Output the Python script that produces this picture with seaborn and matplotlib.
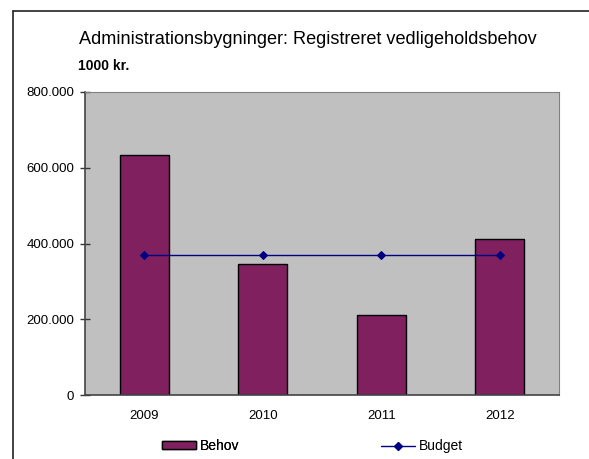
import matplotlib
matplotlib.use("Agg")
import matplotlib.pyplot as plt
import seaborn as sns
import pandas as pd
from matplotlib.patches import Patch
from matplotlib.lines import Line2D
from matplotlib.ticker import FuncFormatter

years = ["2009", "2010", "2011", "2012"]
behov = [634000, 346000, 212000, 412000]
budget = [369000, 369000, 369000, 369000]
title = "Administrationsbygninger: Registreret vedligeholdsbehov"
unit_label = "1000 kr."

sns.set_theme(style="white")
plt.rcParams['font.family'] = ['Liberation Sans', 'DejaVu Sans']
plt.rcParams['text.color'] = 'black'

df = pd.DataFrame({"year": years, "Behov": behov, "Budget": budget})

fig = plt.figure(figsize=(5.89, 4.59), dpi=100)
ax = fig.add_axes([85/589, 1-395/459, (559-85)/589, (395-92)/459])
ax.set_facecolor("#C0C0C0")

bar_color = "#80205F"
line_color = "#000080"

sns.barplot(data=df, x="year", y="Behov", ax=ax, color=bar_color, width=0.41,
            edgecolor="black", linewidth=1.0, saturation=1)
sns.pointplot(data=df, x="year", y="Budget", ax=ax, color=line_color, markers="D",
              linewidth=1.0, markersize=4.5)

ax.set_ylim(0, 800000)
ax.set_xlim(-0.5, 3.5)
ax.set_yticks([0, 200000, 400000, 600000, 800000])
ax.yaxis.set_major_formatter(FuncFormatter(lambda v, p: "0" if v == 0 else f"{int(v):,}".replace(",", ".")))
ax.set_xlabel("")
ax.set_ylabel("")

ax.set_xticks([0, 1, 2, 3])
ax.set_xticks([-0.5, 0.5, 1.5, 2.5, 3.5], minor=True)
ax.tick_params(axis="x", which="major", length=0, labelsize=9.5, pad=11, colors="black")
ax.tick_params(axis="x", which="minor", length=5, width=1, direction="inout", color="#333333")
ax.tick_params(axis="y", which="major", length=6.5, width=1, direction="inout", labelsize=9.5,
               color="#333333", labelcolor="black", pad=4.5, left=True)

for s in ["left", "bottom"]:
    ax.spines[s].set_color("#444444")
    ax.spines[s].set_linewidth(1.2)
for s in ["top", "right"]:
    ax.spines[s].set_color("#808080")
    ax.spines[s].set_linewidth(0.8)
    ax.spines[s].set_visible(True)

fig.text(79/589, 1-40/459, title, fontsize=13.1, ha="left", va="center", color="black")
fig.text(78/589, 1-66/459, unit_label, fontsize=10, fontweight="bold", ha="left", va="center", color="black")

fig.add_artist(Line2D([12.5/589, 12.5/589], [0, 1-10.5/459], transform=fig.transFigure, color="#222222", lw=1.2))
fig.add_artist(Line2D([12.5/589, 1], [1-10.5/459, 1-10.5/459], transform=fig.transFigure, color="#222222", lw=1.2))

leg_y = 1 - 446/459
kw = dict(loc="center left", frameon=False, fontsize=10, handlelength=2.45, handleheight=0.5,
          handletextpad=0.25, borderpad=0, borderaxespad=0, labelcolor="black")
leg1 = fig.legend([Patch(facecolor=bar_color, edgecolor="black", linewidth=1.0)], ["Behov"],
                  bbox_to_anchor=(162/589, leg_y), **kw)
fig.add_artist(leg1)
fig.legend([Line2D([], [], color=line_color, marker="D", markersize=4.5, lw=1.0)], ["Budget"],
           bbox_to_anchor=(381/589, leg_y), **kw)

fig.savefig("out.png", dpi=100)
